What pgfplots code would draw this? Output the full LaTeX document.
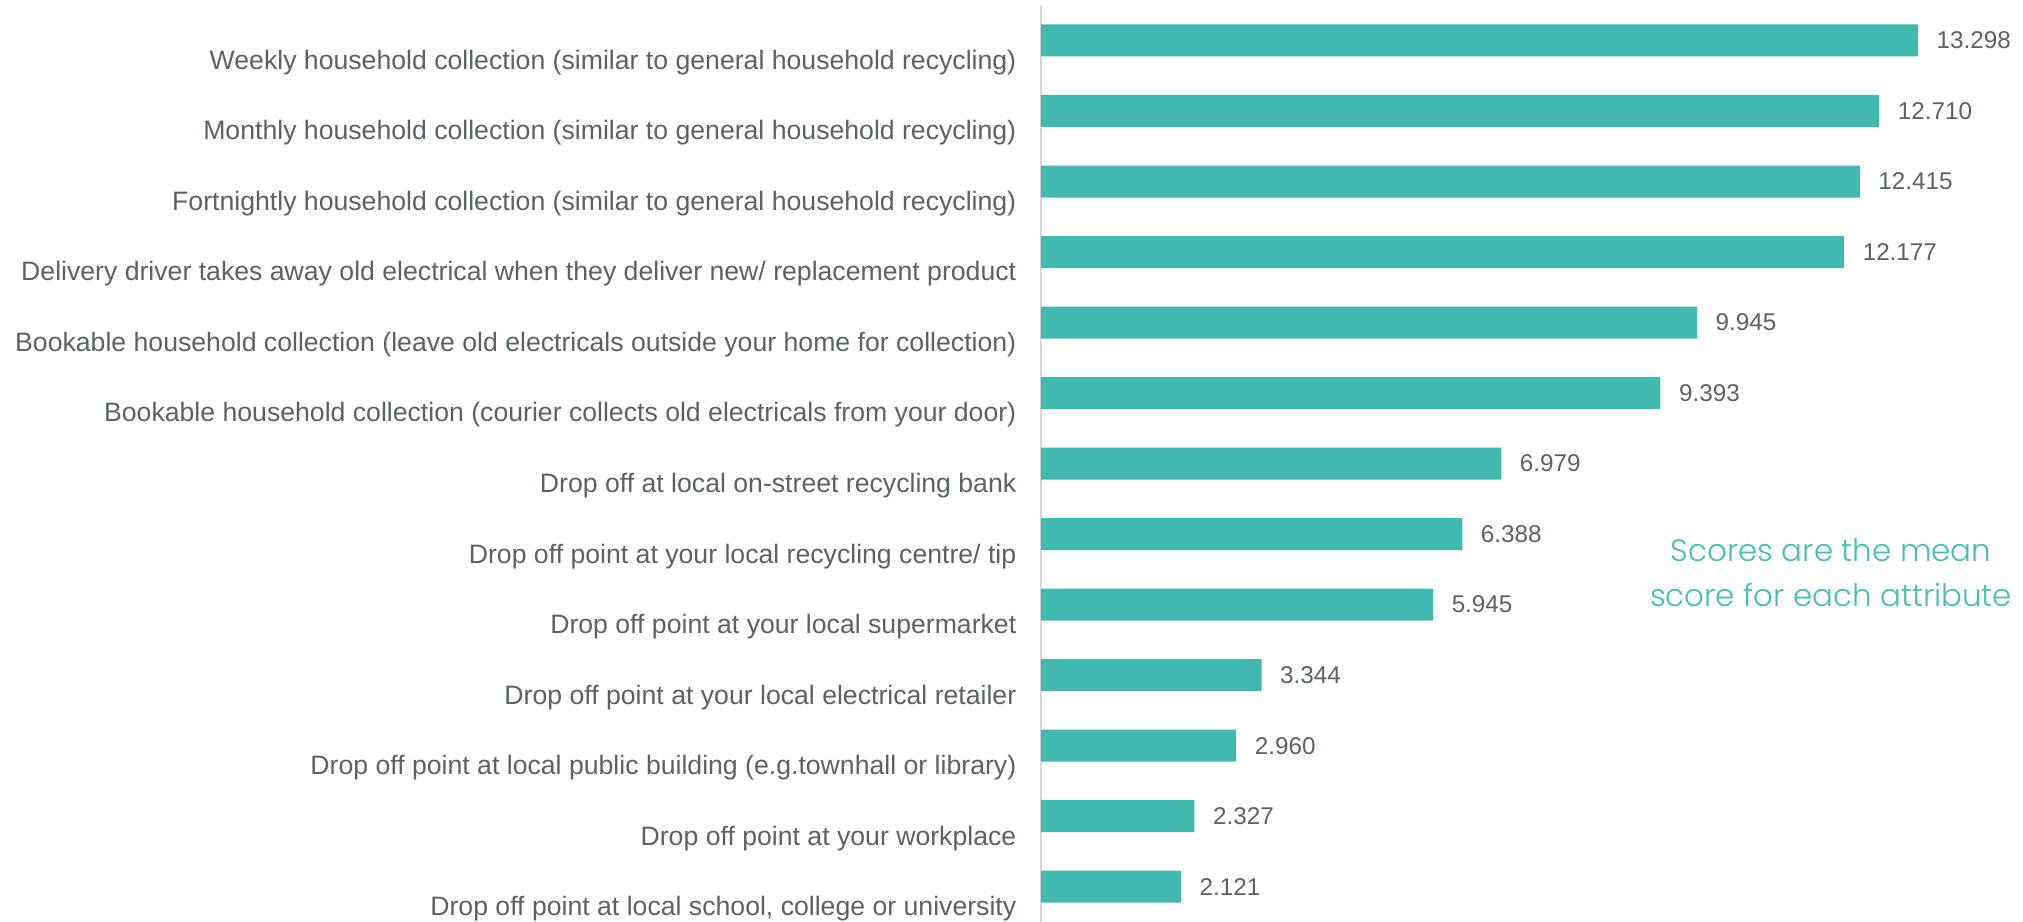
\documentclass[border=0pt]{standalone}
\usepackage{pgfplots}
\pgfplotsset{compat=1.18}
\usepackage{fontspec}
\setmainfont{Liberation Sans}
\IfFontExistsTF{Poppins Light}{\newfontfamily\notefont{Poppins Light}}{\newfontfamily\notefont{Poppins}}
\definecolor{barTeal}{HTML}{41B9AE}
\definecolor{noteTeal}{HTML}{47BDB2}
\definecolor{labelGray}{HTML}{5B6262}
\definecolor{axisGray}{HTML}{D9D9D9}

\begin{document}
\begin{tikzpicture}
\begin{axis}[
  scale only axis,
  width=98.2mm, height=91.68mm,
  xbar, bar width=3.2mm,
  xmin=0, xmax=14.89,
  ymin=-0.5, ymax=12.5,
  y dir=reverse,
  axis x line=none,
  axis y line*=left,
  y axis line style={draw=axisGray, line width=0.5pt, -},
  ytick={0,...,12},
  major tick length=0pt,
  yticklabels={
    Weekly household collection (similar to general household recycling),
    Monthly household collection (similar to general household recycling),
    Fortnightly household collection (similar to general household recycling),
    Delivery driver takes away old electrical when they deliver new/ replacement product\ ,
    Bookable household collection (leave old electricals outside your home for collection),
    Bookable household collection (courier collects old electricals from your door),
    Drop off at local on-street recycling bank,
    Drop off point at your local recycling centre/ tip,
    Drop off point at your local supermarket,
    Drop off point at your local electrical retailer\ ,
    Drop off point at local public building (e.g.townhall or library),
    Drop off point at your workplace,
    {Drop off point at local school, college or university}
  },
  yticklabel style={font=\fontsize{7.58}{9}\selectfont, text=labelGray,
                    anchor=east, inner sep=0pt, xshift=-2.4mm, yshift=-2.2mm},
  point meta=x,
  nodes near coords={\pgfmathprintnumber[fixed,fixed zerofill,precision=3,assume math mode=true]{\pgfplotspointmeta}},
  nodes near coords style={font=\fontsize{6.9}{8}\selectfont, text=labelGray,
                           anchor=west, inner sep=0pt, xshift=1.8mm},
  clip=false,
]
  \addplot[fill=barTeal, draw=none] coordinates {
    (13.298,0) (12.710,1) (12.415,2) (12.177,3) (9.945,4) (9.393,5)
    (6.979,6) (6.388,7) (5.945,8) (3.344,9) (2.960,10) (2.327,11) (2.121,12)
  };
  \node[font=\notefont\fontsize{8.8}{12.8}\selectfont, text=noteTeal, align=center]
    at (axis cs:11.98,7.55) {Scores are the mean\\score for each attribute};
  \coordinate (O) at (rel axis cs:0,0);
\end{axis}
\pgfresetboundingbox
\path (O) ++(-104.1mm,0) rectangle ++(202.3mm,92.2mm);
\end{tikzpicture}
\end{document}
